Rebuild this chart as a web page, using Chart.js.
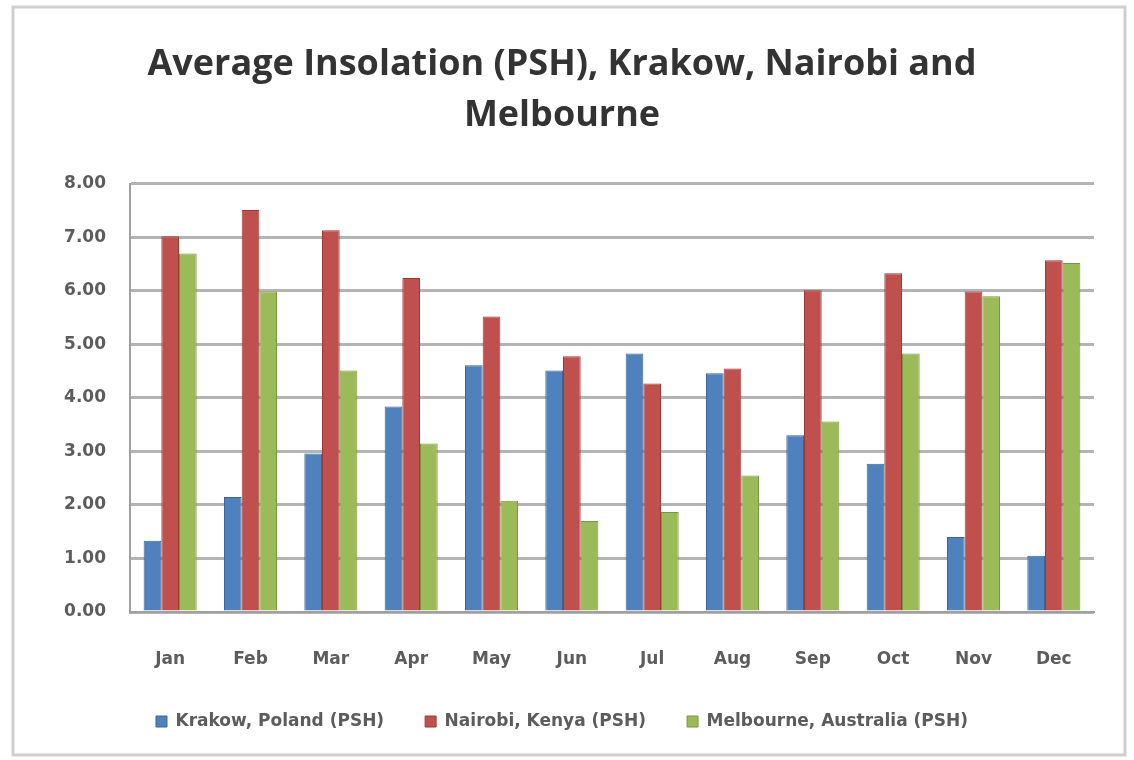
<!DOCTYPE html>
<html lang="en">
<head>
    <meta charset="UTF-8">
    <title>Average Insolation (PSH)</title>
    <script src="https://cdn.jsdelivr.net/npm/chart.js"></script>
    <style>
        body {
            margin: 0;
            background: #ffffff;
        }
        #wrap {
            width: 1134px;
            height: 760px;
        }
    </style>
</head>
<body>
    <div id="wrap"><canvas id="insolationChart" width="1134" height="760"></canvas></div>

    <script>
        // Monthly peak sun hours per city
        const months = ['Jan', 'Feb', 'Mar', 'Apr', 'May', 'Jun', 'Jul', 'Aug', 'Sep', 'Oct', 'Nov', 'Dec'];
        const krakow = [1.33, 2.15, 2.96, 3.84, 4.61, 4.51, 4.83, 4.46, 3.30, 2.77, 1.40, 1.05];
        const nairobi = [7.02, 7.51, 7.13, 6.24, 5.52, 4.78, 4.27, 4.55, 6.01, 6.33, 5.99, 6.57];
        const melbourne = [6.70, 5.99, 4.51, 3.15, 2.08, 1.70, 1.87, 2.55, 3.56, 4.83, 5.90, 6.52];
        const seriesNames = ['Krakow, Poland (PSH)', 'Nairobi, Kenya (PSH)', 'Melbourne, Australia (PSH)'];
        const yTicks = [0, 1, 2, 3, 4, 5, 6, 7, 8];

        // Light frame around the whole chart
        const framePlugin = {
            id: 'frame',
            beforeDraw(chart) {
                const ctx = chart.ctx;
                ctx.save();
                ctx.fillStyle = '#ffffff';
                ctx.fillRect(0, 0, chart.width, chart.height);
                ctx.strokeStyle = '#cfcfcf';
                ctx.lineWidth = 3;
                ctx.strokeRect(13, 7, 1112, 748);
                ctx.restore();
            }
        };

        const axisFont = { family: 'DejaVu Sans', size: 17, weight: 'bold' };
        const textGrey = '#5c5c5c';

        const ctx = document.getElementById('insolationChart').getContext('2d');
        new Chart(ctx, {
            type: 'bar',
            data: {
                labels: months,
                datasets: [
                    { label: seriesNames[0], data: krakow, backgroundColor: '#4f81bd', borderColor: '#3a6596' },
                    { label: seriesNames[1], data: nairobi, backgroundColor: '#c0504d', borderColor: '#9a3b38' },
                    { label: seriesNames[2], data: melbourne, backgroundColor: '#9bbb59', borderColor: '#7a9640' }
                ].map(d => Object.assign(d, { borderWidth: 1, categoryPercentage: 0.66, barPercentage: 1.0 }))
            },
            options: {
                responsive: false,
                animation: false,
                layout: {
                    padding: { left: 30, right: 40, top: 10, bottom: 20 }
                },
                plugins: {
                    title: {
                        display: true,
                        text: ['Average Insolation (PSH), Krakow, Nairobi and', 'Melbourne'],
                        color: '#333333',
                        font: { family: 'Open Sans', size: 36, weight: 'bold', lineHeight: 1.4 },
                        padding: { top: 30, bottom: 43 }
                    },
                    legend: {
                        position: 'bottom',
                        labels: {
                            color: textGrey,
                            font: axisFont,
                            boxWidth: 11,
                            boxHeight: 11,
                            padding: 41
                        }
                    },
                    tooltip: { enabled: false }
                },
                scales: {
                    x: {
                        afterFit(scale) {
                            scale.height = 60;
                        },
                        grid: { display: false, drawTicks: false },
                        border: { color: '#a0a0a0', width: 2 },
                        ticks: {
                            color: textGrey,
                            font: axisFont,
                            padding: 37
                        }
                    },
                    y: {
                        min: 0,
                        max: 8,
                        afterBuildTicks(scale) {
                            scale.ticks = yTicks.map(v => ({ value: v }));
                        },
                        afterFit(scale) {
                            scale.width = 100;
                        },
                        grid: { color: '#b4b4b4', lineWidth: 3, drawTicks: false },
                        border: { color: '#a0a0a0', width: 2 },
                        ticks: {
                            color: textGrey,
                            font: axisFont,
                            padding: 24,
                            callback: v => Number(v).toFixed(2)
                        }
                    }
                }
            },
            plugins: [framePlugin]
        });
    </script>
</body>
</html>
